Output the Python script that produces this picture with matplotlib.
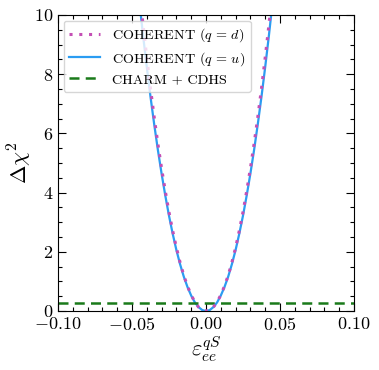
import matplotlib
matplotlib.use("Agg")
import matplotlib.pyplot as plt
from matplotlib.ticker import MultipleLocator

plt.rcParams['mathtext.fontset'] = 'cm'
plt.rcParams['font.family'] = 'serif'
plt.rcParams['font.serif'] = ['cmr10', 'DejaVu Serif']
plt.rcParams['axes.formatter.use_mathtext'] = True
plt.rcParams['axes.unicode_minus'] = True

eps = [-0.05, -0.0475, -0.045, -0.0425, -0.04, -0.0375, -0.035, -0.0325, -0.03, -0.0275,
       -0.025, -0.0225, -0.02, -0.0175, -0.015, -0.0125, -0.01, -0.0075, -0.005, -0.0025,
       0.0, 0.0025, 0.005, 0.0075, 0.01, 0.0125, 0.015, 0.0175, 0.02, 0.0225,
       0.025, 0.0275, 0.03, 0.0325, 0.035, 0.0375, 0.04, 0.0425, 0.045, 0.0475, 0.05]

chi2_d = [13.38, 12.07, 10.83, 9.66, 8.56, 7.52, 6.55, 5.65, 4.82, 4.05,
          3.34, 2.71, 2.14, 1.64, 1.20, 0.84, 0.54, 0.30, 0.13, 0.03,
          0.0, 0.03, 0.13, 0.30, 0.54, 0.84, 1.20, 1.64, 2.14, 2.71,
          3.34, 4.05, 4.82, 5.65, 6.55, 7.52, 8.56, 9.66, 10.83, 12.07, 13.38]

chi2_u = [12.88, 11.62, 10.43, 9.30, 8.24, 7.24, 6.31, 5.44, 4.64, 3.90,
          3.22, 2.61, 2.06, 1.58, 1.16, 0.81, 0.52, 0.29, 0.13, 0.03,
          0.0, 0.03, 0.13, 0.29, 0.52, 0.81, 1.16, 1.58, 2.06, 2.61,
          3.22, 3.90, 4.64, 5.44, 6.31, 7.24, 8.24, 9.30, 10.43, 11.62, 12.88]

charm_x = [-0.1, 0.1]
charm_chi2 = [0.28, 0.28]

labels = [r'COHERENT ($q\,=\,d$)', r'COHERENT ($q\,=\,u$)', 'CHARM + CDHS']

fig = plt.figure(figsize=(3.79, 3.70), dpi=100)
ax = fig.add_axes([0.153, 0.1595, 0.781, 0.8])

ax.plot(eps, chi2_d, color='#c44fb5', lw=2.2, ls=(0, (1, 2.2)), label=labels[0], zorder=3)
ax.plot(eps, chi2_u, color='#2b9cf2', lw=1.6, ls='-', label=labels[1], zorder=2)
ax.plot(charm_x, charm_chi2, color='#1a7a1a', lw=1.8, ls=(0, (4, 2.5)), label=labels[2], zorder=2)

ax.set_xlim(-0.1, 0.1)
ax.set_ylim(0, 10)
ax.xaxis.set_major_locator(MultipleLocator(0.05))
ax.xaxis.set_minor_locator(MultipleLocator(0.01))
ax.yaxis.set_major_locator(MultipleLocator(2))
ax.yaxis.set_minor_locator(MultipleLocator(0.5))
ax.tick_params(which='both', direction='in', top=True, right=True, labelsize=13)
ax.tick_params(which='major', length=6, width=0.8)
ax.tick_params(which='minor', length=3, width=0.8)

ax.set_xlabel(r'$\varepsilon_{ee}^{qS}$', fontsize=16, labelpad=1)
ax.set_ylabel(r'$\Delta\chi^2$', fontsize=16, labelpad=0)

ax.legend(loc='upper left', fontsize=10.2, handlelength=2.2, frameon=True,
          borderaxespad=0.4, labelspacing=0.4)

fig.savefig('out.png', dpi=100)
